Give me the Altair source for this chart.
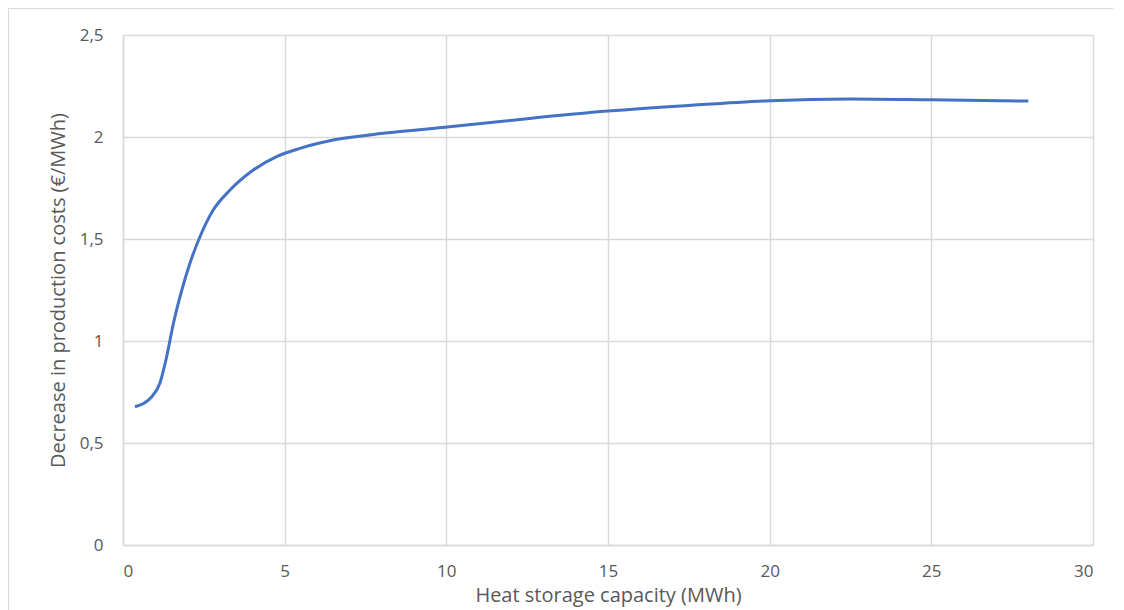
import altair as alt
import pandas as pd

capacity = [0.37, 0.89, 1.14, 1.35, 1.56, 1.82, 2.07, 2.38, 2.79, 3.31, 4.03, 4.75, 5.47, 6.5, 8.05, 10.1, 12.5, 15.0, 17.5, 20.0, 22.5, 25.0, 28.0]
decrease = [0.678, 0.727, 0.793, 0.923, 1.087, 1.25, 1.381, 1.511, 1.642, 1.74, 1.838, 1.904, 1.944, 1.985, 2.018, 2.05, 2.09, 2.127, 2.155, 2.178, 2.186, 2.182, 2.176]

df = pd.DataFrame({"x": capacity, "y": decrease})

FONT = "Open Sans"
GRAY = "#595959"
GRID = "#d9d9d9"

line = alt.Chart(df).mark_line(color="#4472c4", strokeWidth=3, interpolate="monotone").encode(
    x=alt.X("x:Q", scale=alt.Scale(domain=[0, 30], nice=False),
            axis=alt.Axis(title="Heat storage capacity (MWh)", values=[0, 5, 10, 15, 20, 25, 30],
                          grid=True, gridColor=GRID, gridWidth=1.5,
                          domainColor=GRID, domainWidth=1.5, ticks=False,
                          labelFont=FONT, labelFontSize=17, labelColor=GRAY, labelPadding=18,
                          titleFont=FONT, titleFontSize=20, titleColor=GRAY, titleFontWeight="normal",
                          titlePadding=6)),
    y=alt.Y("y:Q", scale=alt.Scale(domain=[0, 2.5], nice=False),
            axis=alt.Axis(title="Decrease in production costs (€/MWh)", values=[0, 0.5, 1, 1.5, 2, 2.5],
                          labelExpr="replace(toString(datum.value), '.', ',')",
                          grid=True, gridColor=GRID, gridWidth=1.5,
                          domainColor=GRID, domainWidth=1.5, ticks=False,
                          labelFont=FONT, labelFontSize=17, labelColor=GRAY, labelPadding=20,
                          titleFont=FONT, titleFontSize=20, titleColor=GRAY, titleFontWeight="normal",
                          titlePadding=11)),
)

frame = alt.Chart(pd.DataFrame({"a": [0]})).mark_rect(fill=None, stroke="#d9d9d9", strokeWidth=1).encode(
    x=alt.value(-114.5), x2=alt.value(994), y=alt.value(-26.5), y2=alt.value(600)
)

chart = alt.layer(frame, line).properties(
    width=970, height=510,
    autosize=alt.AutoSizeParams(type="none"),
    padding={"left": 115, "top": 27, "right": 20, "bottom": 75},
).configure_view(stroke=None).configure(background="white")

chart.save("out.html", embed_options={"renderer": "svg", "actions": False})
